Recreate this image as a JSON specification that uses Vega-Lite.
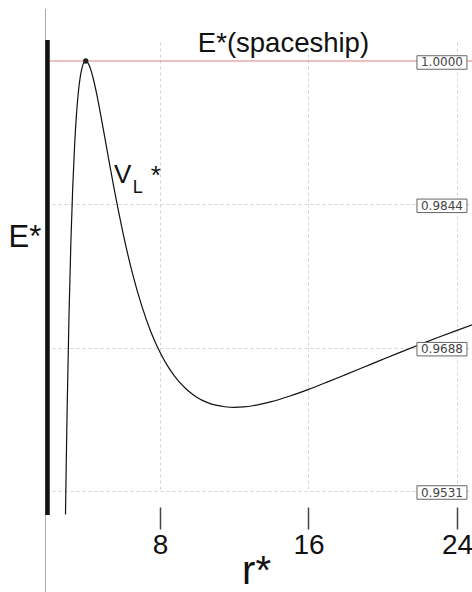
{
  "$schema": "https://vega.github.io/schema/vega-lite/v6.json",
  "width": 426,
  "height": 449,
  "autosize": {"type": "none"},
  "padding": {"left": 46, "top": 42, "right": 0, "bottom": 101},
  "background": "white",
  "config": {"view": {"stroke": null}, "font": "Liberation Sans"},
  "data": {"values": [{}]},
  "datasets": {
    "potential": [
      {"r": 2.91, "v": 0.95056}, {"r": 2.95, "v": 0.95609}, {"r": 3.0, "v": 0.96225},
      {"r": 3.1, "v": 0.97243}, {"r": 3.2, "v": 0.98027}, {"r": 3.3, "v": 0.98627},
      {"r": 3.4, "v": 0.99079}, {"r": 3.5, "v": 0.99415}, {"r": 3.6, "v": 0.99657},
      {"r": 3.7, "v": 0.99822}, {"r": 3.8, "v": 0.99926}, {"r": 3.9, "v": 0.99983},
      {"r": 4.0, "v": 1.0}, {"r": 4.1, "v": 0.99985}, {"r": 4.2, "v": 0.99946},
      {"r": 4.3, "v": 0.99887}, {"r": 4.4, "v": 0.99812}, {"r": 4.6, "v": 0.9963},
      {"r": 4.8, "v": 0.99419}, {"r": 5.0, "v": 0.99197}, {"r": 5.25, "v": 0.98914},
      {"r": 5.5, "v": 0.98638}, {"r": 5.75, "v": 0.98376}, {"r": 6.0, "v": 0.98131},
      {"r": 6.5, "v": 0.97698}, {"r": 7.0, "v": 0.97341}, {"r": 7.5, "v": 0.97052},
      {"r": 8.0, "v": 0.96825}, {"r": 8.5, "v": 0.96646}, {"r": 9.0, "v": 0.9651},
      {"r": 9.5, "v": 0.96408}, {"r": 10.0, "v": 0.96333}, {"r": 10.5, "v": 0.96281},
      {"r": 11.0, "v": 0.96248}, {"r": 11.5, "v": 0.96231}, {"r": 12.0, "v": 0.96225},
      {"r": 12.5, "v": 0.9623}, {"r": 13.0, "v": 0.96242}, {"r": 14.0, "v": 0.96286},
      {"r": 15.0, "v": 0.96348}, {"r": 16.0, "v": 0.9642}, {"r": 17.0, "v": 0.96499},
      {"r": 18.0, "v": 0.96581}, {"r": 19.0, "v": 0.96664}, {"r": 20.0, "v": 0.96747},
      {"r": 21.0, "v": 0.96829}, {"r": 22.0, "v": 0.96909}, {"r": 23.0, "v": 0.96988},
      {"r": 24.0, "v": 0.97064}, {"r": 25.0, "v": 0.97137}
    ],
    "levels": [
      {"v": 1.0, "label": "1.0000"},
      {"v": 0.984375, "label": "0.9844"},
      {"v": 0.96875, "label": "0.9688"},
      {"v": 0.953125, "label": "0.9531"}
    ],
    "peak": [{"r": 4.0, "v": 1.0}]
  },
  "layer": [
    {
      "data": {"name": "potential"},
      "mark": {"type": "line", "color": "#111111", "strokeWidth": 1.2, "interpolate": "monotone"},
      "encoding": {
        "x": {
          "field": "r", "type": "quantitative",
          "scale": {"domain": [1.8593, 24.808], "nice": false, "zero": false},
          "axis": {
            "values": [8, 16, 24], "offset": 16, "domain": false,
            "tickSize": 22, "tickWidth": 1.5, "tickColor": "#444444",
            "labelFontSize": 28, "labelPadding": 2, "labelColor": "#111111",
            "labelFlush": false, "labelOverlap": false,
            "grid": true, "gridDash": [3, 3], "gridColor": "#d2d2d2",
            "title": "r*", "titleFontSize": 40, "titleFontWeight": "normal",
            "titleColor": "#111111", "titleBaseline": "alphabetic",
            "titleX": 210, "titleY": 76
          }
        },
        "y": {
          "field": "v", "type": "quantitative",
          "scale": {"domain": [0.953125, 1.00207], "nice": false, "zero": false},
          "axis": {
            "values": [0.953125, 0.96875, 0.984375], "domain": false,
            "ticks": false, "labels": false, "grid": true,
            "gridDash": [3, 3], "gridColor": "#d2d2d2", "title": null
          }
        }
      }
    },
    {
      "mark": {"type": "rule", "color": "#aaaaaa", "strokeWidth": 1},
      "encoding": {
        "x": {"datum": 1.832, "type": "quantitative"},
        "y": {"datum": 1.00567, "type": "quantitative"},
        "y2": {"datum": 0.94211}
      }
    },
    {
      "mark": {"type": "rule", "color": "#e08080", "strokeWidth": 1},
      "encoding": {
        "y": {"datum": 1.0, "type": "quantitative"},
        "x": {"datum": 1.8593, "type": "quantitative"},
        "x2": {"datum": 24.808}
      }
    },
    {
      "mark": {"type": "rule", "color": "#111111", "strokeWidth": 4.5},
      "encoding": {
        "x": {"datum": 1.939, "type": "quantitative"},
        "y": {"datum": 1.00229, "type": "quantitative"},
        "y2": {"datum": 0.95051}
      }
    },
    {
      "data": {"name": "peak"},
      "mark": {"type": "point", "filled": true, "color": "#222222", "size": 28, "opacity": 1},
      "encoding": {
        "x": {"field": "r", "type": "quantitative"},
        "y": {"field": "v", "type": "quantitative"}
      }
    },
    {
      "data": {"name": "levels"},
      "mark": {
        "type": "point", "shape": "M-1,-0.27H1V0.27H-1Z", "size": 2500,
        "filled": true, "fill": "white", "stroke": "#666666", "strokeWidth": 1,
        "opacity": 1, "yOffset": 1.5
      },
      "encoding": {
        "x": {"datum": 23.19, "type": "quantitative"},
        "y": {"field": "v", "type": "quantitative"}
      }
    },
    {
      "data": {"name": "levels"},
      "mark": {
        "type": "text", "font": "DejaVu Sans", "fontSize": 12, "color": "#444444",
        "align": "center", "baseline": "middle", "yOffset": 1.5
      },
      "encoding": {
        "x": {"datum": 23.19, "type": "quantitative"},
        "y": {"field": "v", "type": "quantitative"},
        "text": {"field": "label"}
      }
    },
    {
      "mark": {"type": "text", "text": "E*(spaceship)", "fontSize": 27.5, "color": "#111111", "align": "left", "baseline": "alphabetic"},
      "encoding": {
        "x": {"datum": 10.04, "type": "quantitative"},
        "y": {"datum": 1.00098, "type": "quantitative"}
      }
    },
    {
      "mark": {"type": "text", "text": "E*", "fontSize": 31, "color": "#111111", "align": "left", "baseline": "alphabetic"},
      "encoding": {
        "x": {"datum": -0.16, "type": "quantitative"},
        "y": {"datum": 0.97972, "type": "quantitative"}
      }
    },
    {
      "mark": {"type": "text", "text": "V", "fontSize": 26, "color": "#111111", "align": "left", "baseline": "alphabetic"},
      "encoding": {
        "x": {"datum": 5.52, "type": "quantitative"},
        "y": {"datum": 0.9867, "type": "quantitative"}
      }
    },
    {
      "mark": {"type": "text", "text": "L", "fontSize": 18, "color": "#111111", "align": "left", "baseline": "alphabetic"},
      "encoding": {
        "x": {"datum": 6.53, "type": "quantitative"},
        "y": {"datum": 0.98561, "type": "quantitative"}
      }
    },
    {
      "mark": {"type": "text", "text": "*", "fontSize": 26, "color": "#111111", "align": "left", "baseline": "alphabetic"},
      "encoding": {
        "x": {"datum": 7.5, "type": "quantitative"},
        "y": {"datum": 0.98659, "type": "quantitative"}
      }
    }
  ]
}
